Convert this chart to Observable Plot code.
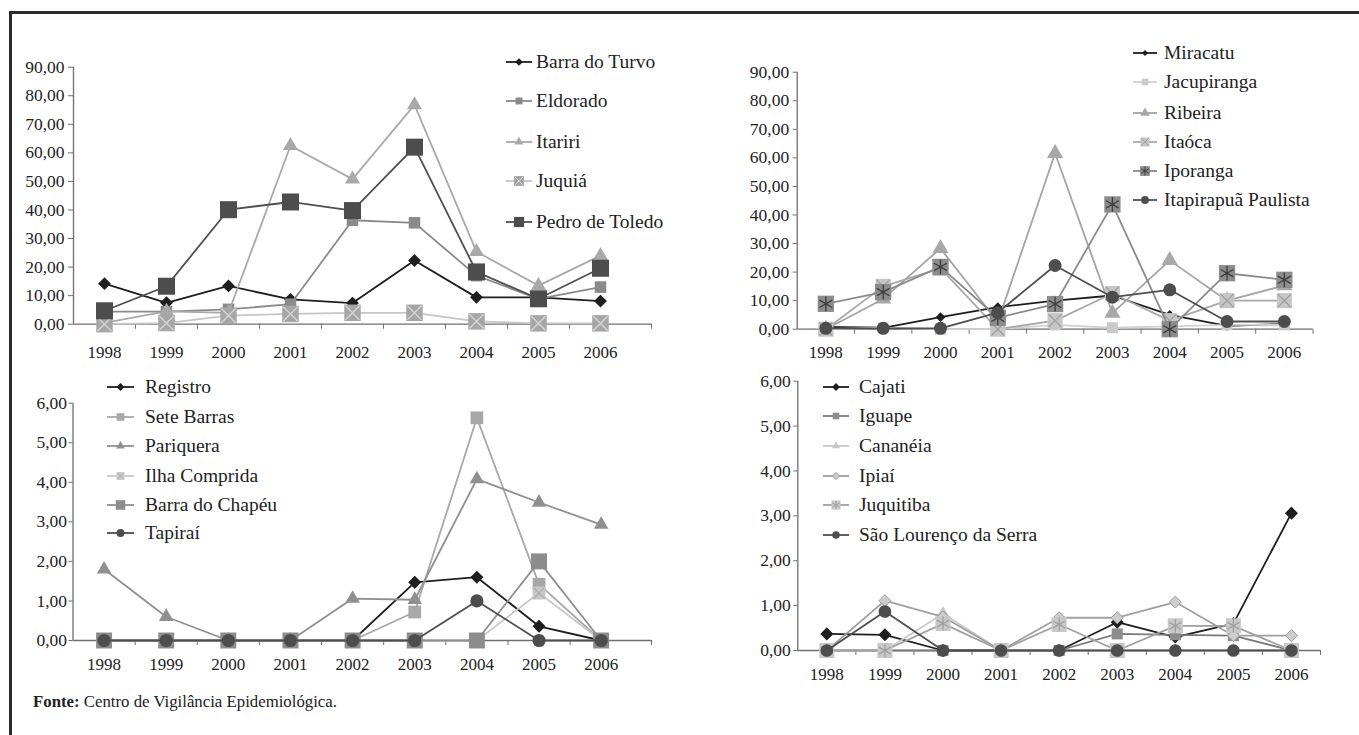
<!DOCTYPE html>
<html><head><meta charset="utf-8">
<script src="https://cdn.jsdelivr.net/npm/d3@7"></script>
<script src="https://cdn.jsdelivr.net/npm/@observablehq/plot@0.6"></script>
<style>
body{margin:0;background:#fff;}
#root{position:relative;width:1359px;height:735px;overflow:hidden;font-family:"Liberation Serif",serif;color:#222;background:#fff;}
#root svg, #root svg text{font-family:"Liberation Serif",serif !important;}
.frame{position:absolute;left:9px;top:11px;width:1400px;height:800px;border-left:3px solid #2b2b2b;border-top:3px solid #2b2b2b;}
.panel{position:absolute;}
.leg{position:absolute;display:flex;align-items:center;font-size:19.5px;line-height:19.5px;white-space:nowrap;height:20px;}
.caption{position:absolute;left:33px;top:694px;font-size:16.8px;line-height:16.8px;white-space:nowrap;}
</style></head>
<body>
<div id="root"><div class="frame"></div></div>
<script>
// ---------- data ----------
const years = [1998, 1999, 2000, 2001, 2002, 2003, 2004, 2005, 2006];

// Panel A (top-left)
const barraDoTurvo  = [14.2, 7.5, 13.4, 8.7, 7.4, 22.3, 9.4, 9.4, 8.1];
const eldorado      = [4.4, 4.4, 5.2, 7.0, 36.4, 35.5, 17.0, 8.9, 13.0];
const itariri       = [0.5, 4.5, 4.0, 62.5, 50.8, 76.8, 25.4, 13.5, 24.0];
const juquia        = [0.0, 0.4, 3.0, 3.6, 4.0, 4.0, 1.0, 0.3, 0.3];
const pedroDeToledo = [4.7, 13.3, 40.1, 42.8, 39.8, 62.0, 18.3, 8.9, 19.6];

// Panel B (top-right)
const miracatu      = [0.8, 0.5, 4.2, 7.7, 10.0, 11.8, 5.0, 1.2, 1.8];
const jacupiranga   = [0.0, 0.5, 0.0, 0.0, 1.5, 0.5, 1.0, 1.5, 1.5];
const ribeira       = [0.0, 10.6, 28.3, 2.5, 61.6, 5.6, 24.1, 10.0, 15.3];
const itaoca        = [0.0, 15.0, 21.3, 0.0, 3.0, 12.5, 3.0, 10.0, 10.0];
const iporanga      = [8.9, 13.0, 21.8, 4.0, 8.8, 43.7, 0.0, 19.6, 17.3];
const itapirapua    = [0.3, 0.3, 0.3, 5.8, 22.3, 11.2, 13.8, 2.7, 2.7];

// Panel C (bottom-left)
const registro      = [0, 0, 0, 0, 0, 1.47, 1.60, 0.36, 0];
const seteBarras    = [0, 0, 0, 0, 0, 0.72, 5.63, 1.42, 0];
const pariquera     = [1.80, 0.60, 0, 0, 1.06, 1.03, 4.08, 3.49, 2.93];
const ilhaComprida  = [0, 0, 0, 0, 0, 0, 0, 1.20, 0];
const barraDoChapeu = [0, 0, 0, 0, 0, 0, 0, 2.00, 0];
const tapirai       = [0, 0, 0, 0, 0, 0, 1.00, 0, 0];

// Panel D (bottom-right)
const cajati        = [0.37, 0.35, 0, 0, 0, 0.63, 0.30, 0.60, 3.06];
const iguape        = [0, 0, 0, 0, 0, 0.37, 0.35, 0.33, 0];
const cananeia      = [0, 0, 0.82, 0, 0, 0, 0, 0, 0];
const ipiai         = [0, 1.11, 0.75, 0, 0.73, 0.73, 1.08, 0.33, 0.33];
const juquitiba     = [0, 0, 0.60, 0, 0.58, 0, 0.55, 0.55, 0];
const saoLourenco   = [0, 0.87, 0, 0, 0, 0, 0, 0, 0];

const yTicksA = [0, 10, 20, 30, 40, 50, 60, 70, 80, 90];
const yTicksC = [0, 1, 2, 3, 4, 5, 6];
const caption = "Centro de Vigilância Epidemiológica.";

// ---------- styles ----------
const S = (line, symbol, fill, r, extra = {}) => ({line, symbol, fill, r, ...extra});

const panels = [
  { left: 0, top: 0, width: 680, height: 370, mL: 73, mR: 29, mT: 66.7, mB: 46.3,
    xMax: 2006.823, yMax: 90, yTicks: yTicksA, tickSize: 5, tickPad: 4, labelPad: 22,
    leg: {x0: 506, x1: 532, tx: 536, ys: [62, 101, 142, 181, 222]},
    series: [
      {name: "Barra do Turvo", values: barraDoTurvo, st: S("#1e1e1e", "diamond2", "#1e1e1e", 5.8)},
      {name: "Eldorado", values: eldorado, st: S("#8a8a8a", "square", "#8a8a8a", 6.5)},
      {name: "Itariri", values: itariri, st: S("#a9a9a9", "triangle", "#a9a9a9", 5.6)},
      {name: "Juquiá", values: juquia, st: S("#c6c6c6", "square", "#a6a6a6", 9.3, {over: {symbol: "times", stroke: "#d6d6d6", r: 6.5}})},
      {name: "Pedro de Toledo", values: pedroDeToledo, st: S("#4f4f4f", "square", "#4d4d4d", 9.6)}
    ]},
  { left: 680, top: 0, width: 679, height: 370, mL: 116.7, mR: 46.5, mT: 71.7, mB: 41.3,
    xMax: 2006.5, yMax: 90, yTicks: yTicksA, tickSize: 4, tickPad: 4, labelPad: 17,
    leg: {x0: 1133, x1: 1157, tx: 1164, ys: [53, 82, 113, 142, 171, 200]},
    series: [
      {name: "Miracatu", values: miracatu, st: S("#1e1e1e", "diamond2", "#1e1e1e", 4.4)},
      {name: "Jacupiranga", values: jacupiranga, st: S("#d2d2d2", "square", "#cacaca", 6.2)},
      {name: "Ribeira", values: ribeira, st: S("#a4a4a4", "triangle", "#a8a8a8", 6.0)},
      {name: "Itaóca", values: itaoca, st: S("#a8a8a8", "square", "#c6c6c6", 8.5, {over: {symbol: "times", stroke: "#a0a0a0", r: 6.0}})},
      {name: "Iporanga", values: iporanga, st: S("#8a8a8a", "square", "#8c8c8c", 9.2, {over: {symbol: "asterisk", stroke: "#3c3c3c", r: 7.0}})},
      {name: "Itapirapuã Paulista", values: itapirapua, st: S("#4f4f4f", "circle", "#4d4d4d", 6.5)}
    ]},
  { left: 0, top: 370, width: 680, height: 365, mL: 72.5, mR: 29, mT: 32.7, mB: 95,
    xMax: 2006.81, yMax: 6, yTicks: yTicksC, tickSize: 4, tickPad: 2, labelPad: 17,
    leg: {x0: 107, x1: 134, tx: 145, ys: [387, 417, 446, 476, 505, 533]},
    series: [
      {name: "Registro", values: registro, st: S("#1e1e1e", "diamond2", "#1e1e1e", 5.9)},
      {name: "Sete Barras", values: seteBarras, st: S("#a8a8a8", "square", "#a8a8a8", 7.2)},
      {name: "Pariquera", values: pariquera, st: S("#909090", "triangle", "#909090", 5.4)},
      {name: "Ilha Comprida", values: ilhaComprida, st: S("#cacaca", "square", "#c8c8c8", 7.3, {over: {symbol: "times", stroke: "#acacac", r: 5.0}})},
      {name: "Barra do Chapéu", values: barraDoChapeu, st: S("#8e8e8e", "square", "#8c8c8c", 9.0)},
      {name: "Tapiraí", values: tapirai, st: S("#4f4f4f", "circle", "#4d4d4d", 6.6)}
    ]},
  { left: 680, top: 370, width: 679, height: 365, mL: 117.3, mR: 39, mT: 10.7, mB: 85,
    xMax: 2006.5, yMax: 6, yTicks: yTicksC, tickSize: 4, tickPad: 3, labelPad: 17,
    leg: {x0: 823, x1: 849, tx: 859, ys: [387, 416, 446, 476, 505, 535]},
    series: [
      {name: "Cajati", values: cajati, st: S("#1e1e1e", "diamond2", "#1e1e1e", 5.9)},
      {name: "Iguape", values: iguape, st: S("#7a7a7a", "square", "#8c8c8c", 6.2)},
      {name: "Cananéia", values: cananeia, st: S("#cacaca", "triangle", "#c8c8c8", 5.0)},
      {name: "Ipiaí", values: ipiai, st: S("#a0a0a0", "diamond2", "#cdcdcd", 5.4, {outline: "#9a9a9a"})},
      {name: "Juquitiba", values: juquitiba, st: S("#a0a0a0", "square", "#c8c8c8", 8.5, {over: {symbol: "asterisk", stroke: "#a0a0a0", r: 6.5}})},
      {name: "São Lourenço da Serra", values: saoLourenco, st: S("#4f4f4f", "circle", "#4d4d4d", 6.3)}
    ]}
];

const fmtY = d => d.toFixed(2).replace(".", ",");
const axisColor = "#6f6f6f";
const root = document.getElementById("root");

const symMap = {
  diamond2: d3.symbolDiamond2, square: d3.symbolSquare, triangle: d3.symbolTriangle,
  circle: d3.symbolCircle, times: d3.symbolTimes, asterisk: d3.symbolAsterisk
};

for (const p of panels) {
  const boundaries = d3.range(1998.5, 2006, 1).concat([p.xMax]);
  const marks = [
    Plot.ruleY([0], {stroke: axisColor, strokeWidth: 1.3}),
    Plot.ruleX([1997.5], {stroke: axisColor, strokeWidth: 1.3}),
    Plot.axisY(p.yTicks, {tickSize: p.tickSize, tickPadding: p.tickPad, tickFormat: fmtY, stroke: axisColor, fill: "#222", label: null, fontSize: 17.5, fontVariant: "normal"}),
    Plot.axisX(boundaries, {tickSize: 5, tickFormat: () => "", stroke: axisColor, label: null}),
    Plot.axisX(years, {tickSize: 0, tickPadding: p.labelPad, tickFormat: d => String(d), fill: "#222", label: null, fontSize: 17, fontVariant: "normal"})
  ];
  for (const s of p.series) {
    const rows = years.map((yr, i) => ({year: yr, value: s.values[i]}));
    const st = s.st;
    marks.push(Plot.line(rows, {x: "year", y: "value", stroke: st.line, strokeWidth: 1.8}));
    marks.push(Plot.dot(rows, {x: "year", y: "value", symbol: st.symbol, fill: st.fill,
      stroke: st.outline || "none", strokeWidth: 1, r: st.r}));
    if (st.over) marks.push(Plot.dot(rows, {x: "year", y: "value", symbol: st.over.symbol, fill: "none",
      stroke: st.over.stroke, strokeWidth: 1.3, r: st.over.r}));
  }
  const svg = Plot.plot({
    width: p.width, height: p.height,
    marginLeft: p.mL, marginRight: p.mR, marginTop: p.mT, marginBottom: p.mB,
    x: {type: "linear", domain: [1997.5, p.xMax], label: null},
    y: {type: "linear", domain: [0, p.yMax], label: null},
    style: {fontFamily: "Liberation Serif, serif", fontSize: "17px", color: "#222", background: "transparent", overflow: "visible"},
    marks
  });
  svg.classList.add("panel");
  svg.style.left = p.left + "px";
  svg.style.top = p.top + "px";
  svg.style.position = "absolute";
  root.appendChild(svg);

  // legend
  p.series.forEach((s, i) => {
    const st = s.st;
    const w = p.leg.x1 - p.leg.x0;
    const row = document.createElement("div");
    row.className = "leg";
    row.style.left = p.leg.x0 + "px";
    row.style.top = (p.leg.ys[i] - 10) + "px";
    const sw = d3.create("svg").attr("width", w).attr("height", 16).style("overflow", "visible")
      .style("margin-right", (p.leg.tx - p.leg.x1) + "px");
    sw.append("line").attr("x1", 0).attr("x2", w).attr("y1", 8).attr("y2", 8)
      .attr("stroke", st.line).attr("stroke-width", 1.8);
    const rr = st.r * 0.6;
    sw.append("path").attr("transform", `translate(${w / 2},8)`)
      .attr("d", d3.symbol(symMap[st.symbol], Math.PI * rr * rr)())
      .attr("fill", st.fill).attr("stroke", st.outline || "none");
    if (st.over) {
      const ro = st.over.r * 0.6;
      sw.append("path").attr("transform", `translate(${w / 2},8)`)
        .attr("d", d3.symbol(symMap[st.over.symbol], Math.PI * ro * ro)())
        .attr("fill", "none").attr("stroke", st.over.stroke).attr("stroke-width", 1);
    }
    row.appendChild(sw.node());
    const t = document.createElement("span");
    t.textContent = s.name;
    row.appendChild(t);
    root.appendChild(row);
  });
}

const cap = document.createElement("div");
cap.className = "caption";
cap.innerHTML = "<b>Fonte:</b> " + caption;
root.appendChild(cap);
</script>
</body></html>
